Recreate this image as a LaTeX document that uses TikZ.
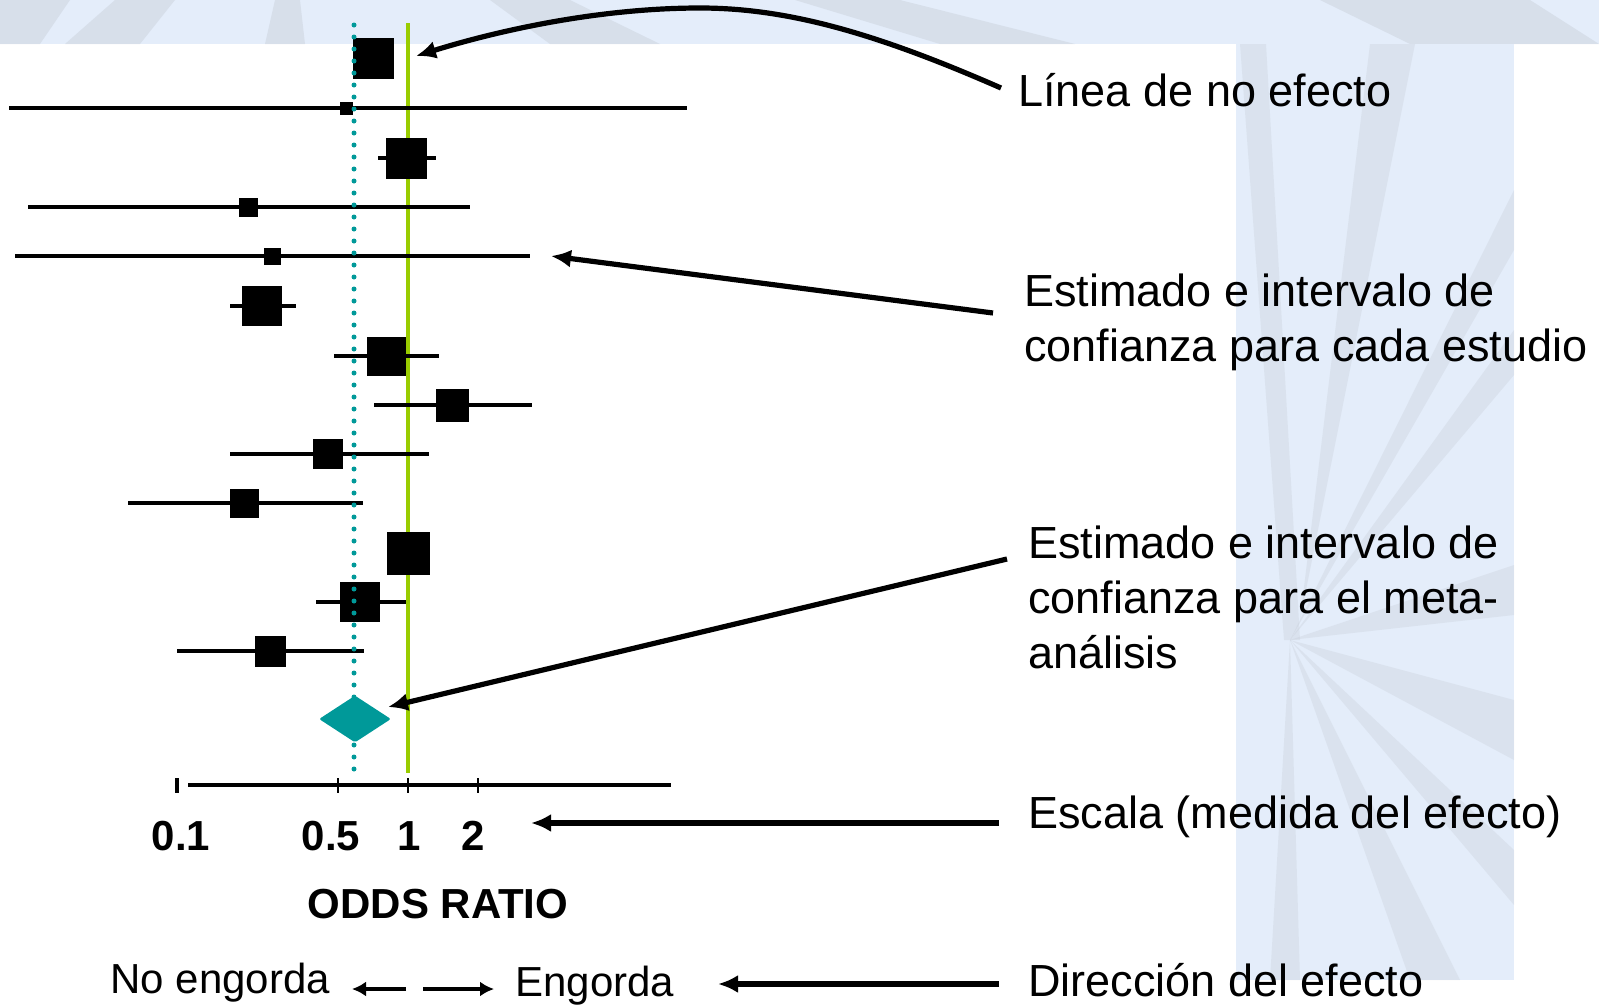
\documentclass[tikz,border=0pt]{standalone}
\usepackage{fontspec}
\setmainfont{Liberation Sans}
\usetikzlibrary{%
  arrows,%
  arrows.meta,%
  calc,%
  shapes.geometric%
}
\tikzset{>=latex}
\definecolor{bgblue}{RGB}{228,237,250}
\definecolor{bggrey}{RGB}{196,202,212}
\definecolor{metateal}{RGB}{0,153,153}
\definecolor{nulgreen}{RGB}{153,204,0}
\tikzset{
  ci/.style={line width=1.7pt},
  sq/.style={fill=black,inner sep=0pt,minimum size=#1},
  annot/.style={-{Latex[length=10pt,width=9pt]},line width=2.6pt},
  lab/.style={anchor=north west,inner sep=0pt,align=left,font=\fontsize{22.5}{27.5}\selectfont},
  ticklab/.style={anchor=base,inner sep=0pt,font=\fontsize{21}{25}\selectfont\bfseries},
  dirlab/.style={anchor=base west,inner sep=0pt,font=\fontsize{21}{25}\selectfont},
  dirarrow/.style={-{Latex[length=7pt,width=7.5pt]},line width=2pt}
}

\begin{document}
\begin{tikzpicture}[x=0.5pt,y=-0.5pt]
    \useasboundingbox (0,0) rectangle (1599,1007);
    % background: top band and right panel
    \fill[bgblue] (0,0) rectangle (1599,44);
    \begin{scope}
      \clip (0,0) rectangle (1599,44);
      \fill[bggrey,opacity=.4] (0,44) -- (40,44) -- (70,0) -- (0,0) -- cycle;
      \fill[bggrey,opacity=.4] (65,44) -- (140,44) -- (175,0) -- (115,0) -- cycle;
      \fill[bggrey,opacity=.4] (265,44) -- (305,44) -- (300,0) -- (275,0) -- cycle;
      \fill[bggrey,opacity=.4] (550,44) -- (660,44) -- (570,0) -- (490,0) -- cycle;
      \fill[bggrey,opacity=.4] (940,44) -- (1075,44) -- (900,0) -- (795,0) -- cycle;
      \fill[bggrey,opacity=.4] (1410,44) -- (1599,44) -- (1530,0) -- (1320,0) -- cycle;
    \end{scope}
    \fill[bgblue] (1236,44) rectangle (1514,980);
    \begin{scope}
      \clip (1236,44) rectangle (1514,980);
      \fill[bggrey,opacity=.3] (1240,44) -- (1266,44) -- (1300,640) -- (1284,640) -- cycle;
      \fill[bggrey,opacity=.3] (1370,44) -- (1415,44) -- (1300,620) -- cycle;
      \fill[bggrey,opacity=.3] (1290,640) -- (1514,190) -- (1514,250) -- cycle;
      \fill[bggrey,opacity=.3] (1290,640) -- (1514,330) -- (1514,375) -- cycle;
      \fill[bggrey,opacity=.3] (1290,640) -- (1514,565) -- (1514,615) -- cycle;
      \fill[bggrey,opacity=.3] (1290,640) -- (1514,700) -- (1514,760) -- cycle;
      \fill[bggrey,opacity=.3] (1290,640) -- (1514,850) -- (1514,905) -- cycle;
      \fill[bggrey,opacity=.3] (1290,640) -- (1460,980) -- (1410,980) -- cycle;
      \fill[bggrey,opacity=.3] (1290,640) -- (1300,980) -- (1270,980) -- cycle;
    \end{scope}
    % line of no effect
    \draw[nulgreen,line width=2pt] (408,23) -- (408,773);
    % studies
    \foreach \c/\lo/\hi/\y/\s [count=\i] in {373/373/373/58/41, 346/9/687/108/13,
      406/378/436/158/41, 248/28/470/207/19, 272/15/530/256/17, 262/230/296/306/40,
      386/334/439/356/39, 452/374/532/405/33, 328/230/429/454/30, 244/128/363/503/29,
      408/408/408/553/43, 360/316/406/602/40, 270/177/364/651/31}{
      \draw[ci] (\lo,\y) -- (\hi,\y);
      \node[sq=\s*0.5pt] (st\i) at (\c,\y) {};
    }
    % pooled estimate
    \draw[metateal,line width=2.5pt,line cap=round,dash pattern=on 0pt off 6pt] (354,25) -- (354,774);
    \node[diamond,fill=metateal,inner sep=0pt,minimum width=36pt,minimum height=23.5pt,
      rounded corners=1pt] (pool) at (355,719) {};
    % scale
    \draw[line width=2pt] (188,785) -- (671,785);
    \draw[line width=2.2pt] (177,778) -- (177,793);
    \draw[line width=1.3pt] (338,778) -- (338,793) (408,778) -- (408,793) (478,778) -- (478,793);
    \node[ticklab] (t01) at (181,850) {0.1};
    \node[ticklab] (t05) at (331,850) {0.5};
    \node[ticklab] (t1) at (409,850) {1};
    \node[ticklab] (t2) at (473,850) {2};
    \node[ticklab] (odds) at (438,918) {ODDS RATIO};
    % direction
    \node[dirlab] (noeng) at (110,993) {No engorda};
    \node[dirlab] (eng) at (515,996) {Engorda};
    \coordinate (dl0) at (406,989);
    \coordinate (dl1) at (352,989);
    \coordinate (dr0) at (423,989);
    \coordinate (dr1) at (494,989);
    \draw[dirarrow] (dl0) -- (dl1);
    \draw[dirarrow] (dr0) -- (dr1);
    % annotations
    \node[lab] (lnoef) at (1018,73) {Línea de no efecto};
    \node[lab] (lest) at (1024,273) {Estimado e intervalo de\\confianza para cada estudio};
    \node[lab] (lmeta) at (1028,525) {Estimado e intervalo de\\confianza para el meta-\\análisis};
    \node[lab] (lesc) at (1028,795) {Escala (medida del efecto)};
    \node[lab] (ldir) at (1028,963) {Dirección del efecto};
    \coordinate (tip1) at (416,56);
    \coordinate (tip2) at (551,256);
    \coordinate (tip3) at (388,707);
    \coordinate (tip4) at (531,823);
    \coordinate (tip5) at (718,984);
    \draw[annot] ($(lnoef.north west)+(-17,15)$) .. controls (880,35) and (790,8) .. (700,8)
      .. controls (600,8) and (500,30) .. (tip1);
    \draw[annot] ($(lest.north west)+(-31,40)$) -- (tip2);
    \draw[annot] ($(lmeta.north west)+(-21,34)$) -- (tip3);
    \draw[annot] ($(lesc.north west)+(-29,28)$) -- (tip4);
    \draw[annot] ($(ldir.north west)+(-29,21)$) -- (tip5);
  \end{tikzpicture}
\end{document}
